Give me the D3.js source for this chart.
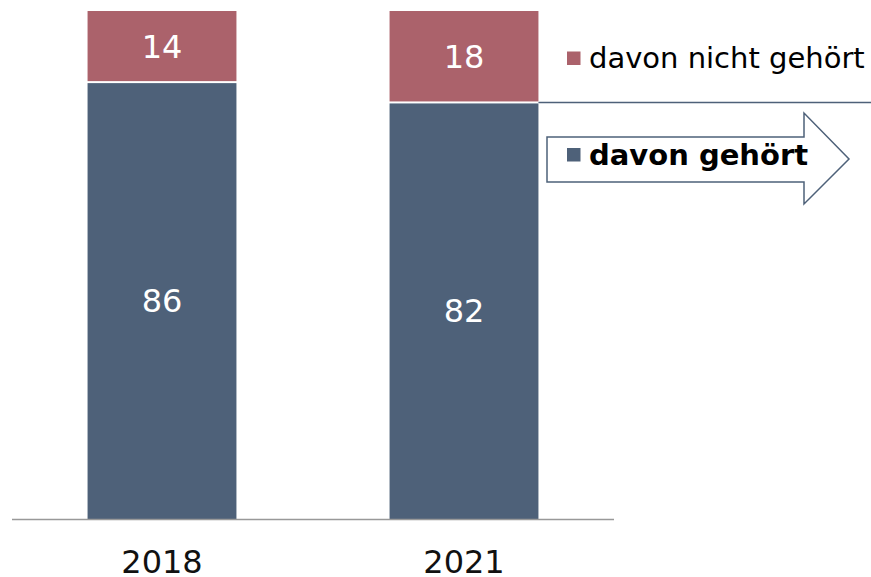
<!DOCTYPE html>
<html>
<head>
<meta charset="utf-8">
<script src="https://cdn.jsdelivr.net/npm/d3@7"></script>
<style>
  html, body { margin: 0; padding: 0; background: #fff; }
  svg { display: block; font-family: Verdana, "DejaVu Sans", sans-serif; }
</style>
</head>
<body>
<script>
var years = ['2018', '2021'];
var heard = [86, 82];
var notHeard = [14, 18];
var seriesNames = ['davon nicht gehört', 'davon gehört'];

var width = 871, height = 577;
var colBlue = '#4e6179', colRed = '#ab626b';

var svg = d3.select('body').append('svg')
  .attr('width', width)
  .attr('height', height);

var x = d3.scaleBand()
  .domain(years)
  .range([11, 615])
  .paddingInner(0.507)
  .paddingOuter(0.2535);

var y = d3.scaleLinear()
  .domain([0, 100])
  .range([519, 11]);

var rows = years.map(function (d, i) {
  return { year: d, heard: heard[i], notHeard: notHeard[i] };
});

// blue part (heard)
svg.selectAll('rect.heard')
  .data(rows)
  .enter()
  .append('rect')
  .attr('class', 'heard')
  .attr('x', function (d) { return x(d.year); })
  .attr('y', function (d) { return y(d.heard) + 1; })
  .attr('width', x.bandwidth())
  .attr('height', function (d) { return y(0) - y(d.heard) - 1; })
  .attr('fill', colBlue);

// red part (not heard)
svg.selectAll('rect.notheard')
  .data(rows)
  .enter()
  .append('rect')
  .attr('class', 'notheard')
  .attr('x', function (d) { return x(d.year); })
  .attr('y', function (d) { return y(d.heard + d.notHeard); })
  .attr('width', x.bandwidth())
  .attr('height', function (d) { return y(d.heard) - y(d.heard + d.notHeard) - 1; })
  .attr('fill', colRed);

// value labels
svg.selectAll('text.vh')
  .data(rows)
  .enter()
  .append('text')
  .attr('x', function (d) { return x(d.year) + x.bandwidth() / 2; })
  .attr('y', function (d) { return y(d.heard / 2); })
  .attr('dy', '0.36em')
  .attr('text-anchor', 'middle')
  .attr('fill', '#fff')
  .style('font-size', '32px')
  .text(function (d) { return d.heard; });

svg.selectAll('text.vn')
  .data(rows)
  .enter()
  .append('text')
  .attr('x', function (d) { return x(d.year) + x.bandwidth() / 2; })
  .attr('y', function (d) { return y(d.heard + d.notHeard / 2); })
  .attr('dy', '0.36em')
  .attr('text-anchor', 'middle')
  .attr('fill', '#fff')
  .style('font-size', '32px')
  .text(function (d) { return d.notHeard; });

// baseline axis
svg.append('line')
  .attr('x1', 12).attr('x2', 614)
  .attr('y1', y(0) + 0.5).attr('y2', y(0) + 0.5)
  .attr('stroke', '#999')
  .attr('stroke-width', 1.5);

svg.selectAll('text.year')
  .data(years)
  .enter()
  .append('text')
  .attr('x', function (d) { return x(d) + x.bandwidth() / 2; })
  .attr('y', y(0) + 54)
  .attr('text-anchor', 'middle')
  .attr('fill', '#111')
  .style('font-size', '32px')
  .text(function (d) { return d; });

// divider line from the 2021 split to the right edge
var last = rows[rows.length - 1];
svg.append('line')
  .attr('x1', x(last.year) + x.bandwidth())
  .attr('x2', width)
  .attr('y1', y(last.heard))
  .attr('y2', y(last.heard))
  .attr('stroke', colBlue)
  .attr('stroke-width', 1.5);

// arrow around "davon gehört"
var arrowPts = [[547, 137], [804, 137], [804, 113], [849, 159], [804, 204], [804, 182], [547, 182]];
svg.append('polygon')
  .attr('points', arrowPts.map(function (p) { return p.join(','); }).join(' '))
  .attr('fill', '#fff')
  .attr('stroke', colBlue)
  .attr('stroke-width', 1.5);

// legend
var legend = [
  { name: seriesNames[0], color: colRed, yb: 68, bold: false },
  { name: seriesNames[1], color: colBlue, yb: 164.5, bold: true }
];
var lg = svg.selectAll('g.legend')
  .data(legend)
  .enter()
  .append('g')
  .attr('class', 'legend');
lg.append('rect')
  .attr('x', 567)
  .attr('y', function (d) { return d.yb - 16.5; })
  .attr('width', 13.5)
  .attr('height', 13.5)
  .attr('fill', function (d) { return d.color; });
lg.append('text')
  .attr('x', 589)
  .attr('y', function (d) { return d.yb; })
  .attr('fill', '#000')
  .style('font-size', '29px')
  .style('font-weight', function (d) { return d.bold ? 'bold' : 'normal'; })
  .text(function (d) { return d.name; });
</script>
</body>
</html>
